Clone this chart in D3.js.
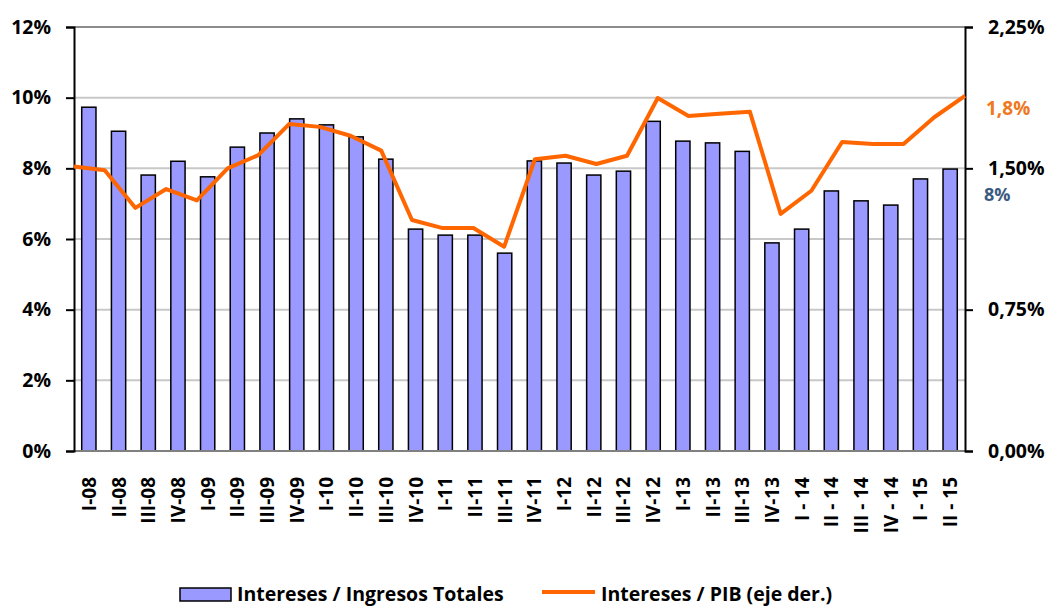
<!DOCTYPE html>
<html>
<head>
<meta charset="utf-8">
<script src="https://cdn.jsdelivr.net/npm/d3@7"></script>
<style>
body{margin:0;background:#fff;}
svg{font-family:"Open Sans",Lato,sans-serif;font-weight:bold;}
</style>
</head>
<body>
<svg id="graph" width="1048" height="608"></svg>
<script>
'use strict'

var categories = ['I-08','II-08','III-08','IV-08','I-09','II-09','III-09','IV-09','I-10','II-10','III-10','IV-10',
	'I-11','II-11','III-11','IV-11','I-12','II-12','III-12','IV-12','I-13','II-13','III-13','IV-13',
	'I - 14','II - 14','III - 14','IV - 14','I - 15','II - 15'];
// intereses / ingresos totales (%), left axis
var barValues = [9.73,9.05,7.81,8.20,7.76,8.60,9.00,9.40,9.23,8.89,8.26,6.28,
	6.11,6.11,5.60,8.21,8.15,7.81,7.92,9.33,8.77,8.72,8.48,5.89,
	6.28,7.36,7.08,6.96,7.70,7.98];
// intereses / PIB (%), right axis
var lineValues = [1.51,1.49,1.29,1.39,1.33,1.50,1.57,1.735,1.72,1.673,1.594,1.226,
	1.183,1.183,1.084,1.548,1.567,1.523,1.567,1.873,1.778,1.79,1.80,1.258,
	1.381,1.64,1.629,1.629,1.771,1.884];
var leftTicks = [0,2,4,6,8,10,12];
var rightTicks = [0,0.75,1.5,2.25];
var rightTickLabels = ['0,00%','0,75%','1,50%','2,25%'];
var seriesNames = ['Intereses / Ingresos Totales','Intereses / PIB (eje der.)'];

var plotLeft = 74, plotRight = 965, plotTop = 27, plotBottom = 451;
var svg = d3.select('#graph');

var x = d3.scaleBand().domain(categories).range([plotLeft,plotRight]).paddingInner(0.52).paddingOuter(0.26);
var xLine = d3.scalePoint().domain(categories).range([plotLeft,plotRight]).padding(0);
var yL = d3.scaleLinear().domain([0,12]).range([plotBottom,plotTop]);
var yR = d3.scaleLinear().domain([0,2.25]).range([plotBottom,plotTop]);

// gridlines
svg.append('g').selectAll('line').data(leftTicks.slice(1)).enter().append('line')
	.attr('x1',plotLeft).attr('x2',plotRight)
	.attr('y1',function(d){return yL(d);}).attr('y2',function(d){return yL(d);})
	.attr('stroke',function(d){return d==12?'#8c8c8c':'#c8c8c8';})
	.attr('stroke-width',2);

// bars
svg.append('g').selectAll('rect').data(barValues).enter().append('rect')
	.attr('x',function(d,i){return x(categories[i]);})
	.attr('y',function(d){return yL(d);})
	.attr('width',x.bandwidth())
	.attr('height',function(d){return plotBottom-yL(d);})
	.attr('fill','#9999ff')
	.attr('stroke','#000')
	.attr('stroke-width',1.5);

// baseline
svg.append('line').attr('x1',plotLeft).attr('x2',plotRight).attr('y1',plotBottom).attr('y2',plotBottom)
	.attr('stroke','#808080').attr('stroke-width',2);

// left axis
var axL = svg.append('g').attr('transform','translate('+plotLeft+',0)')
	.call(d3.axisLeft(yL).tickValues(leftTicks).tickSize(8).tickPadding(15).tickFormat(function(d){return d+'%';}));
axL.attr('font-family',null).attr('font-size',null);
axL.select('.domain').attr('stroke','#000').attr('stroke-width',2);
axL.selectAll('.tick line').attr('stroke','#000').attr('stroke-width',2);
axL.selectAll('.tick text').attr('fill','#000').attr('font-size',19.5);

// right axis
var axR = svg.append('g').attr('transform','translate('+plotRight+',0)')
	.call(d3.axisRight(yR).tickValues(rightTicks).tickSize(8).tickPadding(15).tickFormat(function(d,i){return rightTickLabels[i];}));
axR.attr('font-family',null).attr('font-size',null);
axR.select('.domain').attr('stroke','#000').attr('stroke-width',2);
axR.selectAll('.tick line').attr('stroke','#000').attr('stroke-width',2);
axR.selectAll('.tick text').attr('fill','#000').attr('font-size',19.5);

// category labels
svg.append('g').selectAll('text').data(categories).enter().append('text')
	.attr('transform',function(d){return 'translate('+(x(d)+x.bandwidth()/2+7)+',477) rotate(-90)';})
	.attr('text-anchor','end')
	.attr('font-size',19)
	.text(function(d){return d;});

// line
var line = d3.line().x(function(d,i){return xLine(categories[i]);}).y(function(d){return yR(d);});
svg.append('path').datum(lineValues).attr('d',line)
	.attr('fill','none').attr('stroke','#ff6600').attr('stroke-width',4).attr('stroke-linejoin','round');

// data labels on the last points
var last = categories.length-1;
svg.append('text').attr('x',986).attr('y',yR(lineValues[last])+19)
	.attr('fill','#f07820').attr('font-size',19).text('1,8%');
svg.append('text').attr('x',984).attr('y',yL(barValues[last])+32)
	.attr('fill','#3b5a80').attr('font-size',18).text(Math.round(barValues[last])+'%');

// legend
svg.append('rect').attr('x',180).attr('y',588).attr('width',51).attr('height',13)
	.attr('fill','#9999ff').attr('stroke','#000').attr('stroke-width',1.5);
svg.append('text').attr('x',237).attr('y',601).attr('font-size',19.5).text(seriesNames[0]);
svg.append('line').attr('x1',542).attr('x2',595).attr('y1',592).attr('y2',592)
	.attr('stroke','#ff6600').attr('stroke-width',4);
svg.append('text').attr('x',601).attr('y',601).attr('font-size',19.5).text(seriesNames[1]);
</script>
</body>
</html>
